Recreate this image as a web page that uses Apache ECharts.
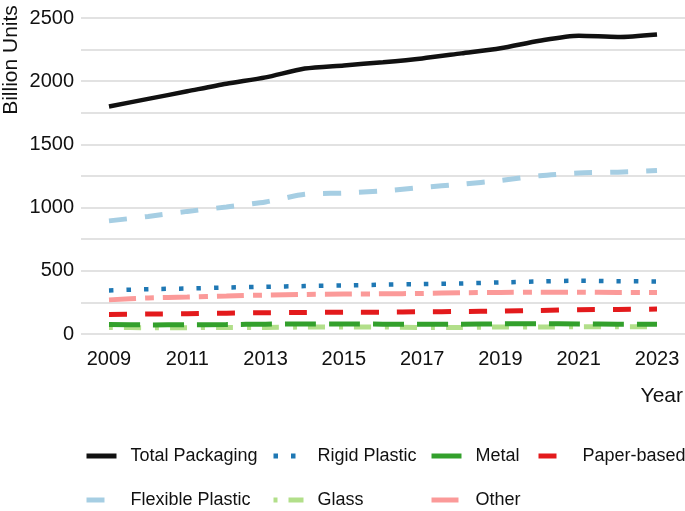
<!DOCTYPE html>
<html>
<head>
<meta charset="utf-8">
<script src="https://cdn.jsdelivr.net/npm/echarts@6/dist/echarts.min.js"></script>
<style>
  html, body { margin: 0; padding: 0; background: #fff; }
  #chart { width: 685px; height: 511px; }
</style>
</head>
<body>
<div id="chart"></div>
<script>
// 数据
const years = [2009, 2010, 2011, 2012, 2013, 2014, 2015, 2016, 2017, 2018, 2019, 2020, 2021, 2022, 2023]
const yearLabels = [2009, 2011, 2013, 2015, 2017, 2019, 2021, 2023]
const valueLabels = [0, 500, 1000, 1500, 2000, 2500]

const totalPackaging = [1800, 1860, 1920, 1980, 2030, 2100, 2125, 2150, 2180, 2220, 2260, 2320, 2360, 2350, 2370]
const flexiblePlastic = [895, 930, 970, 1005, 1045, 1105, 1115, 1132, 1160, 1185, 1215, 1252, 1274, 1280, 1293]
const rigidPlastic = [345, 355, 360, 368, 374, 379, 384, 390, 395, 400, 408, 416, 421, 418, 416]
const other = [270, 285, 292, 300, 308, 313, 316, 318, 321, 326, 329, 331, 331, 329, 329]
const paperBased = [155, 158, 160, 165, 168, 170, 173, 173, 176, 178, 181, 186, 192, 194, 197]
const glass = [52, 50, 50, 52, 52, 55, 55, 55, 52, 52, 55, 55, 57, 57, 57]
const metal = [75, 72, 73, 75, 78, 80, 80, 78, 78, 78, 80, 82, 80, 77, 78]

const font = "'Liberation Sans', Arial, sans-serif"
const pairs = arr => years.map((y, i) => [y, arr[i]])

const mkSeries = (name, data, color, type, width, z) => ({
  name,
  type: 'line',
  data: pairs(data),
  symbol: 'none',
  smooth: 0.25,
  z,
  lineStyle: { color, width, type, cap: 'butt' },
  itemStyle: { color }
})

// 每个图例单独定位，模拟两行四列的排列
const mkLegend = (name, left, top) => ({
  data: [name],
  left,
  top,
  itemWidth: 30,
  itemHeight: 14,
  padding: 0,
  selectedMode: false,
  itemStyle: { opacity: 0 }, // 隐藏图例中间的小圆点
  lineStyle: { width: 5 },
  textStyle: { fontFamily: font, fontSize: 18, color: '#111', padding: [0, 0, 0, 9], lineHeight: 24 }
})

const myChart = echarts.init(document.getElementById('chart'))
const option = {
  animation: false,
  grid: { left: 81, right: 0, top: 18, bottom: 177, outerBoundsMode: 'none' },
  legend: [
    mkLegend('Total Packaging', 84, 444),
    mkLegend('Rigid Plastic', 271, 444),
    mkLegend('Metal', 429, 444),
    mkLegend('Paper-based', 536, 444),
    mkLegend('Flexible Plastic', 84, 488),
    mkLegend('Glass', 271, 488),
    mkLegend('Other', 429, 488)
  ],
  // y轴标题（竖排）
  graphic: [
    {
      type: 'text',
      x: 11,
      y: 60,
      rotation: Math.PI / 2,
      style: {
        text: 'Billion Units',
        font: '21px ' + font,
        fill: '#111',
        textAlign: 'center',
        textVerticalAlign: 'middle'
      }
    }
  ],
  xAxis: {
    type: 'value',
    min: 2008.285,
    max: 2023.715,
    name: 'Year',
    nameLocation: 'end',
    nameGap: -2,
    nameTextStyle: { fontFamily: font, fontSize: 21, color: '#111', align: 'right', verticalAlign: 'top', padding: [52, 0, 0, 0] },
    axisLine: { show: false },
    axisTick: { show: false },
    splitLine: { show: false },
    axisLabel: {
      customValues: yearLabels,
      formatter: v => String(v),
      margin: 15,
      fontFamily: font,
      fontSize: 20,
      color: '#111'
    }
  },
  yAxis: {
    type: 'value',
    min: 0,
    max: 2500,
    interval: 250,
    axisLine: { show: false },
    axisTick: { show: false },
    splitLine: { lineStyle: { color: '#d9d9d9', width: 1.5 } },
    axisLabel: {
      customValues: valueLabels,
      formatter: v => String(v),
      margin: 7,
      fontFamily: font,
      fontSize: 20,
      color: '#111'
    }
  },
  series: [
    mkSeries('Total Packaging', totalPackaging, '#111111', 'solid', 4.5, 10),
    mkSeries('Flexible Plastic', flexiblePlastic, '#a6cee3', [18, 18], 5, 9),
    mkSeries('Rigid Plastic', rigidPlastic, '#1f78b4', [4.5, 13], 4.5, 8),
    mkSeries('Other', other, '#fb9a99', [27, 9, 9, 9], 5, 7),
    mkSeries('Paper-based', paperBased, '#e31a1c', [18, 18], 5, 6),
    mkSeries('Glass', glass, '#b2df8a', [4, 11, 17, 14], 5, 4),
    mkSeries('Metal', metal, '#33a02c', [31, 13], 5, 5)
  ]
}
myChart.setOption(option)
</script>
</body>
</html>
